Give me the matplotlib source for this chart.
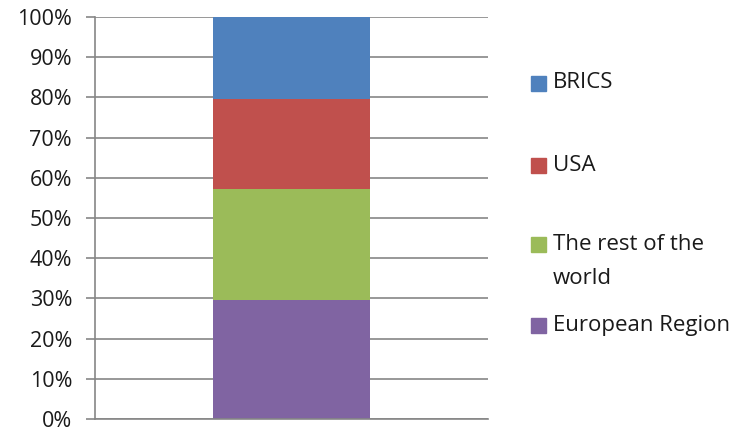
import matplotlib.pyplot as plt
from matplotlib.patches import Rectangle
from matplotlib.ticker import PercentFormatter

# shares, bottom to top
labels = ['European Region', 'The rest of the world', 'USA', 'BRICS']
legend_text = ['European Region', 'The rest of the\nworld', 'USA', 'BRICS']
values = [29.6, 27.6, 22.5, 20.3]
colors = ['#8064A2', '#9BBB59', '#C0504D', '#4F81BD']

plt.rcParams['font.family'] = ['Open Sans', 'DejaVu Sans']

fig = plt.figure(figsize=(7.49, 4.33), dpi=100)
ax = fig.add_axes([95 / 749, 14 / 433, 393 / 749, 402 / 433])

bottom = 0
for lab, v, c in zip(labels, values, colors):
    ax.bar(0, v, width=0.402, bottom=bottom, color=c, label=lab, zorder=3)
    bottom += v

ax.set_xlim(-0.5, 0.5)
ax.set_ylim(0, 100)
ax.set_yticks(range(0, 101, 10))
ax.yaxis.set_major_formatter(PercentFormatter(decimals=0))
ax.set_xticks([])
ax.grid(axis='y', color='#868686', linewidth=1.2, zorder=0)
for s in ['top', 'right']:
    ax.spines[s].set_visible(False)
for s in ['left', 'bottom']:
    ax.spines[s].set_color('#868686')
    ax.spines[s].set_linewidth(1.2)
    ax.spines[s].set_zorder(4)
ax.tick_params(axis='y', length=6.5, width=1.2, color='#868686',
               labelsize=15.5, pad=10, labelcolor='#1a1a1a')

# legend, top entry first, drawn by hand to keep Excel's spacing
ys = [325, 244, 165, 83]
for txt, c, y in zip(legend_text, colors, ys):
    fig.patches.append(Rectangle((531 / 749, 1 - (y + 7.5) / 433), 15 / 749, 15 / 433,
                                 transform=fig.transFigure, color=c))
    if '\n' in txt:
        first, second = txt.split('\n')
        fig.text(553 / 749, 1 - y / 433, first, fontsize=16, color='#1a1a1a',
                 va='center', ha='left')
        fig.text(553 / 749, 1 - (y + 34) / 433, second, fontsize=16, color='#1a1a1a',
                 va='center', ha='left')
    else:
        fig.text(553 / 749, 1 - y / 433, txt, fontsize=16, color='#1a1a1a',
                 va='center', ha='left')

fig.savefig('out.png', dpi=100)
